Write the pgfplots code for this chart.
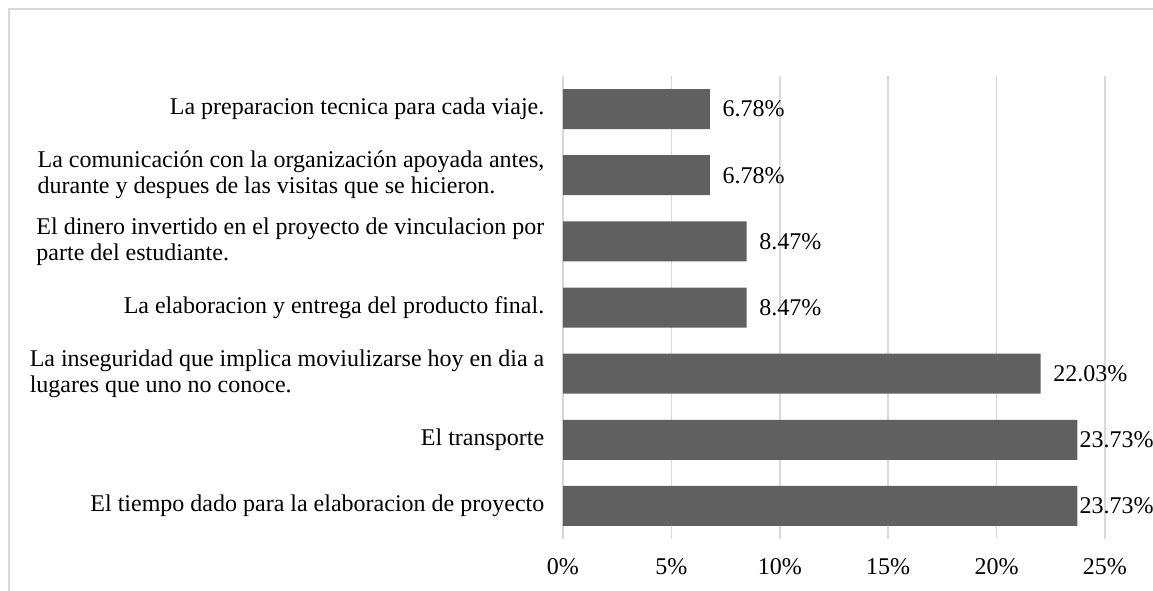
\documentclass[border=0pt]{standalone}
\usepackage{pgfplots}
\pgfplotsset{compat=1.18}
\usepackage{fontspec}
\setmainfont{Liberation Serif}
\definecolor{barc}{RGB}{96,96,96}
\definecolor{gridc}{RGB}{217,217,217}
\begin{document}
\begin{tikzpicture}
\begin{axis}[
  at={(0,0)}, anchor=south west,
  scale only axis, width=406.5pt, height=347.25pt,
  xmin=0, xmax=25, ymin=-0.5, ymax=6.5,
  xbar, bar width=30pt, bar shift=0pt,
  clip=false,
  axis line style={draw=none},
  major tick length=0pt,
  tick style={draw=none},
  xmajorgrids, grid style={gridc, line width=1.1pt},
  xtick={0,5,10,15,20,25},
  xticklabel={\pgfmathprintnumber{\tick}\%},
  ytick={0,1,2,3,4,5,6},
  yticklabels={
    {El tiempo dado para la elaboracion de proyecto},
    {El transporte},
    {La inseguridad que implica moviulizarse hoy en dia a\\lugares que uno no conoce.},
    {La elaboracion y entrega del producto final.},
    {El dinero invertido en el proyecto de vinculacion por\\parte del estudiante.},
    {La comunicación con la organización apoyada antes,\\durante y despues de las visitas que se hicieron.},
    {La preparacion tecnica para cada viaje.}
  },
  font=\fontsize{18pt}{19.5pt}\selectfont,
  /pgf/number format/assume math mode=true,
  yticklabel style={align=left, xshift=-10.5pt},
  xticklabel style={yshift=-11pt},
  point meta=x,
  nodes near coords={\pgfmathprintnumber[fixed,fixed zerofill,precision=2]{\pgfplotspointmeta}\%},
  nodes near coords style={anchor=west, text=black},
]
\addplot[fill=barc, draw=none, nodes near coords style={xshift=6pt}]
  coordinates {(22.03,2) (8.47,3) (8.47,4) (6.78,5) (6.78,6)};
\addplot[fill=barc, draw=none, nodes near coords style={xshift=-2pt}]
  coordinates {(23.73,0) (23.73,1)};
\end{axis}
\draw[gridc, line width=1.5pt] (-415.5pt,-45pt) -- (-415.5pt,397.5pt) -- (450pt,397.5pt);
\pgfresetboundingbox
\useasboundingbox (-422.25pt,-38.25pt) rectangle (442.5pt,404.25pt);
\end{tikzpicture}
\end{document}
